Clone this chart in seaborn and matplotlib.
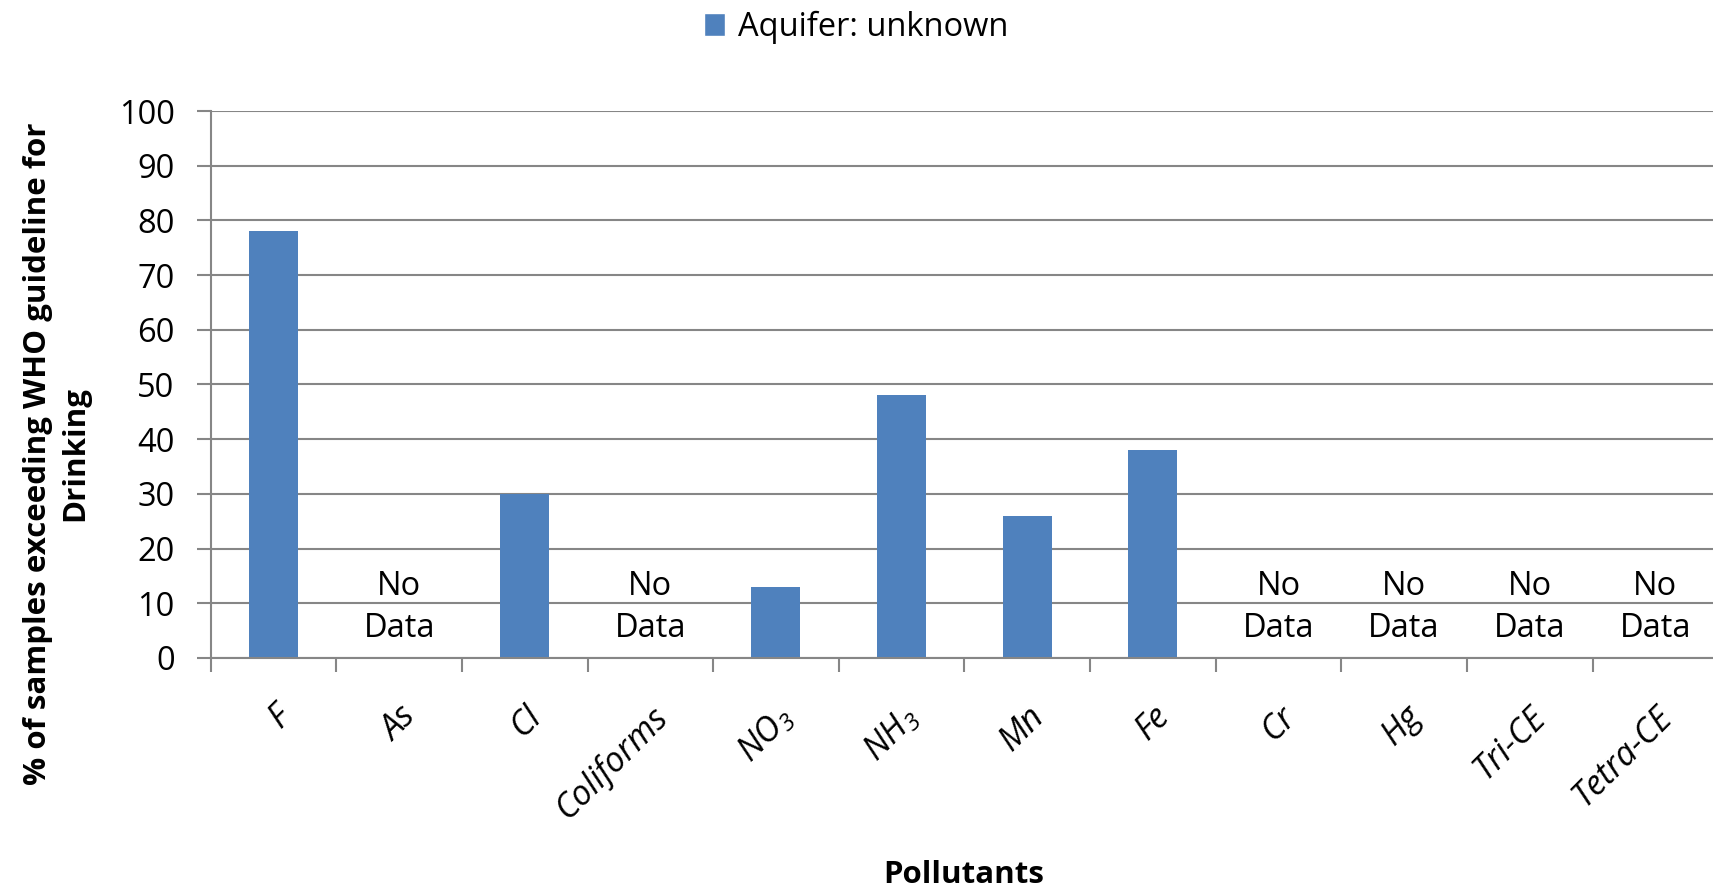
import numpy as np
import pandas as pd
import matplotlib
matplotlib.use("Agg")
import matplotlib.pyplot as plt
from matplotlib.ticker import FixedLocator, MultipleLocator
from matplotlib.patches import Patch
import seaborn as sns

# Share of samples above the WHO drinking-water guideline, per pollutant
pollutants = ["F", "As", "Cl", "Coliforms", "NO$_3$", "NH$_3$", "Mn", "Fe",
              "Cr", "Hg", "Tri-CE", "Tetra-CE"]
percent_exceeding = [78, None, 30, None, 13, 48, 26, 38, None, None, None, None]
series_name = "Aquifer: unknown"
no_data_label = "No\nData"

sns.set_style("white")
plt.rcParams["font.family"] = ["Open Sans", "DejaVu Sans"]
plt.rcParams["mathtext.default"] = "regular"
plt.rcParams["text.color"] = "black"
plt.rcParams["xtick.labelcolor"] = "black"
plt.rcParams["ytick.labelcolor"] = "black"

df = pd.DataFrame({"pollutant": pollutants,
                   "percent": pd.to_numeric(pd.Series(percent_exceeding), errors="coerce")})

bar_color = "#4F81BD"
grid_color = "#868686"
fs = 23.5

fig = plt.figure(figsize=(17.13, 8.89), dpi=100)
ax = fig.add_axes([0.123, 0.260, 0.880, 0.615])

sns.barplot(data=df, x="pollutant", y="percent", color=bar_color,
            width=0.39, saturation=1, edgecolor="none", ax=ax)

ax.set_ylim(0, 100)
ax.set_xlim(-0.5, len(pollutants) - 0.5)
ax.yaxis.set_major_locator(MultipleLocator(10))
ax.yaxis.grid(True, color=grid_color, linewidth=1.5)
ax.set_axisbelow(True)

for side in ("top", "right"):
    ax.spines[side].set_visible(False)
for side in ("left", "bottom"):
    ax.spines[side].set_color(grid_color)
    ax.spines[side].set_linewidth(1.5)

# y ticks pointing outward
ax.tick_params(axis="y", which="major", direction="out", length=10, width=1.5,
               color=grid_color, labelcolor="black", labelsize=fs, pad=16, left=True)

# x tick marks sit between categories; labels at centres
ax.xaxis.set_minor_locator(FixedLocator(np.arange(-0.5, len(pollutants), 1.0)))
ax.tick_params(axis="x", which="minor", direction="out", length=10, width=1.5,
               color=grid_color, bottom=True)
ax.tick_params(axis="x", which="major", length=0, pad=30, labelsize=fs + 1,
               labelcolor="black")
ax.set_xticks(range(len(pollutants)))
ax.set_xticklabels(pollutants, rotation=45, ha="right", rotation_mode="anchor",
                   style="italic")

# "No Data" notes for pollutants without a value
for i, v in enumerate(df["percent"]):
    if np.isnan(v):
        ax.text(i, 9.3, no_data_label, ha="center", va="center", fontsize=fs,
                linespacing=1.36, color="black")

ax.set_xlabel("")
ax.set_ylabel("")
fig.text(0.5625, 0.016, "Pollutants", ha="center", va="center",
         fontsize=fs - 1, fontweight="bold", color="black")
fig.text(0.033, 0.49, "% of samples exceeding WHO guideline for\nDrinking",
         ha="center", va="center", rotation=90, fontsize=fs - 1,
         fontweight="bold", linespacing=1.3, color="black")

fig.legend(handles=[Patch(facecolor=bar_color, label=series_name)],
           loc="upper center", bbox_to_anchor=(0.5, 1.021), frameon=False,
           fontsize=fs, handlelength=0.65, handleheight=0.7, handletextpad=0.4,
           labelcolor="black")

fig.savefig("out.png", dpi=100)
